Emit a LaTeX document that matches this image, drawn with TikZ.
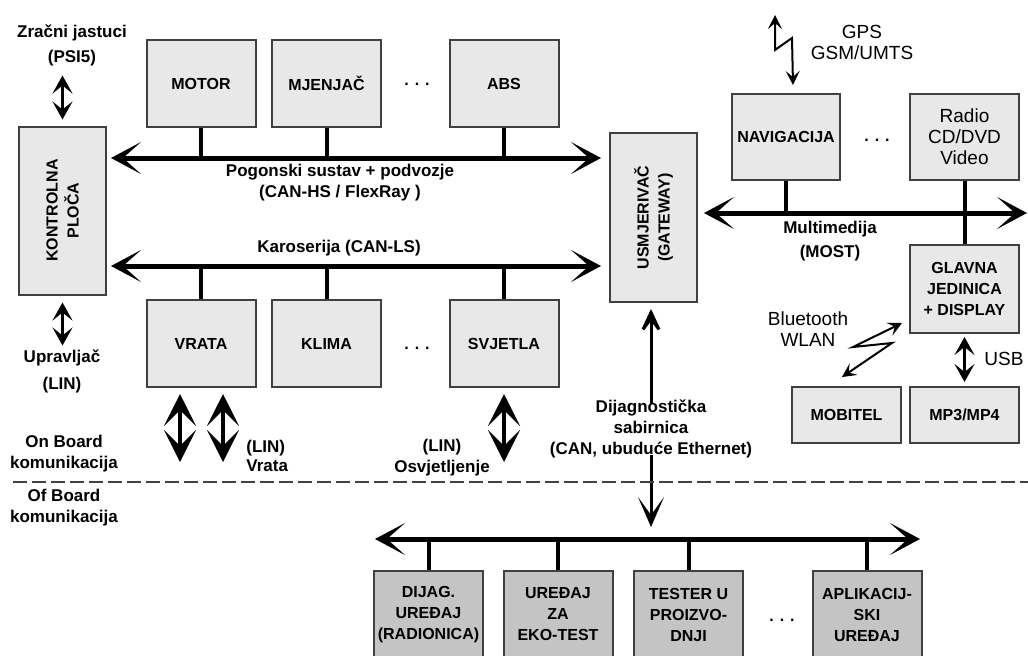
\documentclass[tikz,border=0pt]{standalone}
\usepackage{fontspec}
\setmainfont{Liberation Sans}
\usetikzlibrary{positioning,arrows.meta,calc}
\tikzset{ecu/.style={draw=black!75,line width=1pt,fill=black!9,align=center,inner sep=1pt,
        font=\fontsize{8}{10.5}\selectfont\bfseries,minimum width=54.5pt,minimum height=43.5pt},
    tool/.style={ecu,fill=black!23},
    lbl/.style={align=center,inner sep=1pt,font=\fontsize{8.5}{10.5}\selectfont\bfseries},
    plain lbl/.style={align=center,inner sep=1pt,font=\fontsize{9.5}{10.5}\selectfont},
    etc/.style={font=\fontsize{8}{10}\selectfont\bfseries},
    bus/.style={line width=2.5pt,{Stealth[length=15pt,width=16pt,inset=9pt]}-{Stealth[length=15pt,width=16pt,inset=9pt]}},
    drop/.style={line width=2pt},
    lin/.style={line width=2pt,{Stealth[length=16pt,width=16pt,inset=8pt]}-{Stealth[length=16pt,width=16pt,inset=8pt]}},
    short lin/.style={line width=1.5pt,{Stealth[length=9pt,width=10pt,inset=4pt]}-{Stealth[length=9pt,width=10pt,inset=4pt]}},
    diag up/.style={line width=1.5pt,-{Stealth[length=17pt,width=16pt,inset=11pt]}},
    diag down/.style={line width=1.5pt,-{Stealth[length=15pt,width=13pt,inset=9pt]}},
    bolt/.style={line width=1pt,{Stealth[length=7pt,width=7pt,inset=3pt]}-{Stealth[length=7pt,width=7pt,inset=3pt]}},
    boardline/.style={line width=1pt,draw=black!75,dash pattern=on 7pt off 2.5pt}}
\begin{document}
\begin{tikzpicture}[x=0.5pt,y=-0.5pt]
    \useasboundingbox (0,0) rectangle (1028,655);

    \coordinate (b1) at (0,158);
    \coordinate (b2) at (0,266);
    \coordinate (b3) at (0,213);
    \coordinate (b3e) at (1027,213);
    \coordinate (b4w) at (375,539);
    \coordinate (b4e) at (920,539);

    \node[ecu,rotate=90,minimum width=84pt] (kp) at (62.5,210.5) {KONTROLNA\\PLOČA};
    \node[ecu,rotate=90,minimum width=84.5pt] (gw) at (653.5,217.5) {USMJERIVAČ\\(GATEWAY)};

    \node[ecu] (mot) at (201,83.5) {MOTOR};
    \node[ecu] (mje) at (326.5,83.5) {MJENJAČ};
    \node[ecu] (abs) at (504,83.5) {ABS};
    \node[etc] (dt1) at (417,84) {.\hspace{3pt}.\hspace{3pt}.};

    \node[ecu] (vra) at (201,343.5) {VRATA};
    \node[ecu] (kli) at (326.5,343.5) {KLIMA};
    \node[ecu] (svj) at (504,343.5) {SVJETLA};
    \node[etc] (dt2) at (417,348) {.\hspace{3pt}.\hspace{3pt}.};

    \node[ecu,minimum width=54pt,minimum height=43pt] (nav) at (786,137) {NAVIGACIJA};
    \node[ecu,minimum height=43pt,font=\fontsize{9.5}{10.5}\selectfont] (rad) at (964.5,137) {Radio\\CD/DVD\\Video};
    \node[etc] (dt3) at (877,140) {.\hspace{3pt}.\hspace{3pt}.};
    \node[ecu,minimum height=44pt] (gla) at (964.5,289) {GLAVNA\\JEDINICA\\+ DISPLAY};
    \node[ecu,minimum height=28pt] (mob) at (846.5,415) {MOBITEL};
    \node[ecu,minimum height=28pt] (mp3) at (964.5,415) {MP3/MP4};

    \node[tool] (dij) at (428.5,614.5) {DIJAG.\\UREĐAJ\\(RADIONICA)};
    \node[tool] (eko) at (558,614.5) {UREĐAJ\\ZA\\EKO-TEST};
    \node[tool] (tes) at (688.5,614.5) {TESTER U\\PROIZVO-\\DNJI};
    \node[tool] (apl) at (867,614.5) {APLIKACIJ-\\SKI\\UREĐAJ};
    \node[etc] (dt4) at (782,620) {.\hspace{3pt}.\hspace{3pt}.};

    \node[lbl] (pog) at (340,182.5) {Pogonski sustav + podvozje\\(CAN-HS / FlexRay )};
    \node[lbl] (kar) at (339,248) {Karoserija (CAN-LS)};
    \node[lbl] (mm) at (830,241) {Multimedija\\[1.5pt](MOST)};
    \node[plain lbl] (gps) at (862,42) {GPS\\GSM/UMTS};
    \node[plain lbl] (bt) at (808,329) {Bluetooth\\WLAN};
    \node[plain lbl] (usb) at (1004,359) {USB};
    \node[lbl] (zra) at (72,45.5) {Zračni jastuci\\[2pt](PSI5)};
    \node[lbl] (upr) at (62,371.5) {Upravljač\\[3pt](LIN)};
    \node[lbl] (onb) at (64,453.5) {On Board\\komunikacija};
    \node[lbl] (ofb) at (64,507.5) {Of Board\\komunikacija};
    \node[lbl,align=left,anchor=west] (linv) at (244,456) {(LIN)\\[-1pt]Vrata};
    \node[lbl] (lino) at (442,457.5) {(LIN)\\Osvjetljenje};
    \node[lbl] (diag) at (651,429) {Dijagnostička\\sabirnica\\(CAN, ubuduće Ethernet)};

    \draw[bus,shorten <=2pt,shorten >=4pt] (kp.south |- b1) -- (gw.north |- b1);
    \draw[bus,shorten <=2pt,shorten >=4pt] (kp.south |- b2) -- (gw.north |- b2);
    \draw[bus,shorten <=3pt] (gw.south |- b3) -- (b3e);
    \draw[bus] (b4w) -- (b4e);

    \foreach \n in {mot,mje,abs}
        \draw[drop] (\n.south) -- (\n.south |- b1);
    \foreach \n in {vra,kli,svj}
        \draw[drop] (\n.north) -- (\n.north |- b2);
    \foreach \n in {dij,eko,tes,apl}
        \draw[drop] (\n.north) -- (\n.north |- b4w);
    \draw[drop] (nav.south) -- (nav.south |- b3);
    \draw[drop] (rad.south) -- (gla.north);

    \coordinate (lv1) at (180,462);
    \coordinate (lv2) at (223,462);
    \coordinate (lsv) at (504,462);
    \draw[lin,shorten <=3pt] (vra.south -| lv1) -- (lv1);
    \draw[lin,shorten <=3pt] (vra.south -| lv2) -- (lv2);
    \draw[lin,shorten <=3pt] (svj.south) -- (svj.south |- lsv);

    \draw[short lin,shorten <=3.5pt,shorten >=3pt] (kp.east |- zra.south) -- (kp.east);
    \draw[short lin,shorten <=3.5pt,shorten >=1pt] (kp.west) -- (kp.west |- upr.north);
    \draw[short lin,shorten <=1.5pt,shorten >=2pt] (gla.south) -- (mp3.north);

    \draw[diag up,shorten <=-3pt,shorten >=3pt] (diag.north) -- (diag.north |- gw.west);
    \draw[diag down,shorten <=-3pt,shorten >=6pt] (diag.south) -- (diag.south |- b4w);

    \coordinate (gpst) at (775,15);
    \coordinate (gpsb) at (793,85);
    \draw[bolt] (gpst) -- ++(0,35) -- ++(17,-12) -- (gpsb);
    \coordinate (btu) at (902,323);
    \coordinate (btl) at (842,377);
    \draw[bolt] (btu) -- ++(-49,24) -- ++(39,-4) -- (btl);

    \coordinate (dl) at (13,482);
    \coordinate (dr) at (1028,482);
    \draw[boardline] (dl) -- (dr);
\end{tikzpicture}
\end{document}
